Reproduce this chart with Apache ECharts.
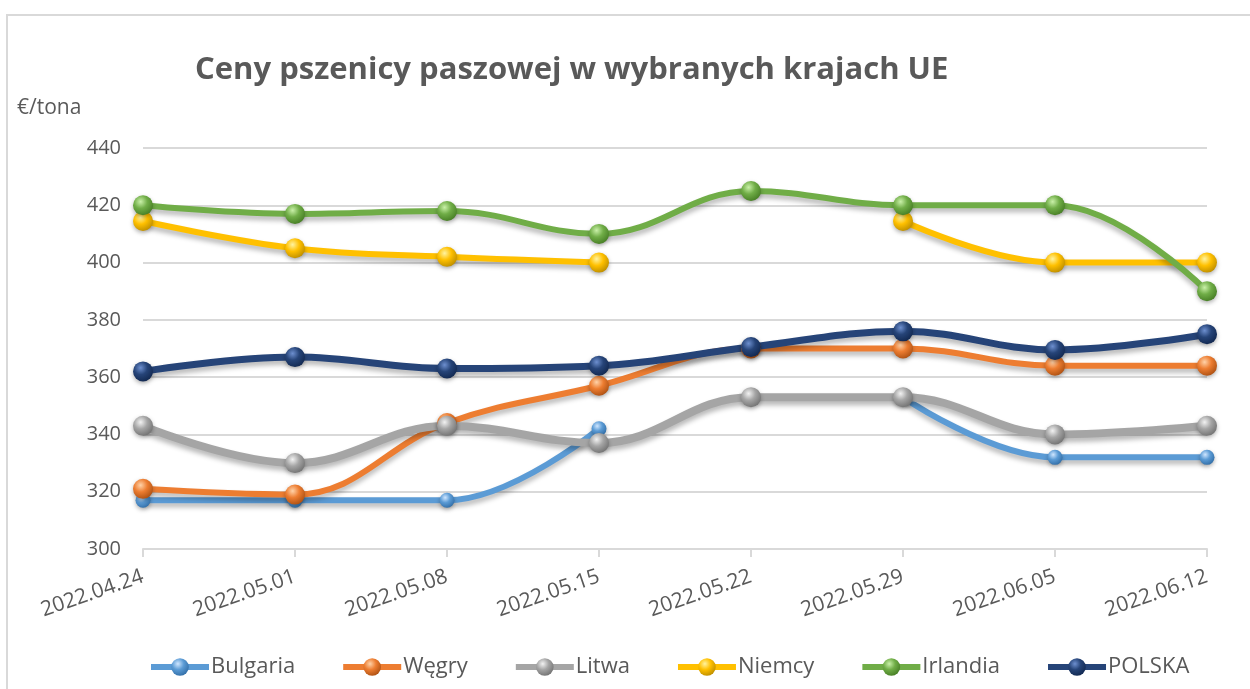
<!DOCTYPE html>
<html>
<head>
<meta charset="utf-8">
<script src="https://cdn.jsdelivr.net/npm/echarts@6/dist/echarts.min.js"></script>
<style>
html,body{margin:0;padding:0;background:#fff;}
#chart{width:1250px;height:689px;}
</style>
</head>
<body>
<div id="chart"></div>
<script>
const categories = ['2022.04.24','2022.05.01','2022.05.08','2022.05.15','2022.05.22','2022.05.29','2022.06.05','2022.06.12'];
const bulgaria = [317, 317, 317, 342, null, 353, 332, 332];
const wegry    = [321, 319, 344, 357, 370, 370, 364, 364];
const litwa    = [343, 330, 343, 337, 353, 353, 340, 343];
const niemcy   = [414.5, 405, 402, 400, null, 414.5, 400, 400];
const irlandia = [420, 417, 418, 410, 425, 420, 420, 390];
const polska   = [362, 367, 363, 364, 370.5, 376, 369.5, 375];
const seriesNames = ['Bulgaria','Węgry','Litwa','Niemcy','Irlandia','POLSKA'];
const yTicks = [300, 440, 20];

const FONT = '"Open Sans", "DejaVu Sans", sans-serif';
const TXT = '#595959';

function sphere(light, base, dark){
  return {
    type:'radial', x:0.38, y:0.32, r:0.75,
    colorStops:[
      {offset:0, color:light},
      {offset:0.45, color:base},
      {offset:1, color:dark}
    ]
  };
}

const styles = [
  {color:'#5B9BD5', light:'#cfe6ff', dark:'#2e6aa3', lw:6, ms:15},
  {color:'#ED7D31', light:'#ffd2a8', dark:'#a84d10', lw:6, ms:20},
  {color:'#A5A5A5', light:'#f2f2f2', dark:'#6e6e6e', lw:8, ms:20},
  {color:'#FFC000', light:'#fff3a0', dark:'#b88a00', lw:6, ms:20},
  {color:'#70AD47', light:'#c9f0a8', dark:'#437a22', lw:6, ms:20},
  {color:'#264478', light:'#6d8fcf', dark:'#10264d', lw:7, ms:20}
];
const dataSets = [bulgaria, wegry, litwa, niemcy, irlandia, polska];

const series = dataSets.map((d,i)=>({
  name: seriesNames[i],
  type:'line',
  data:d,
  smooth:0.4,
  connectNulls:false,
  symbol:'circle',
  symbolSize: styles[i].ms,
  lineStyle:{color:styles[i].color, width:styles[i].lw, shadowColor:'rgba(0,0,0,0.28)', shadowBlur:5, shadowOffsetY:4},
  itemStyle:{color:sphere(styles[i].light, styles[i].color, styles[i].dark), borderWidth:0, shadowColor:'rgba(0,0,0,0.3)', shadowBlur:4, shadowOffsetY:2},
  emphasis:{disabled:true},
  animation:false
}));

const chart = echarts.init(document.getElementById('chart'));
chart.setOption({
  backgroundColor:'#fff',
  animation:false,
  title:{
    text:'Ceny pszenicy paszowej w wybranych krajach UE',
    left:190, top:50,
    textStyle:{fontFamily:FONT, fontWeight:'bold', fontSize:31, color:TXT}
  },
  graphic:[
    {type:'rect', shape:{x:7, y:15, width:1260, height:700}, style:{fill:'none', stroke:'#d9d9d9', lineWidth:2}, silent:true},
    {type:'text', left:17, top:98, style:{text:'€/tona', font:'21px "Open Sans", sans-serif', fill:TXT}, silent:true}
  ],
  legend:{
    data:seriesNames,
    left:143, top:651,
    itemWidth:58, itemHeight:22, itemGap:45,
    lineStyle:{width:6},
    textStyle:{fontFamily:FONT, fontSize:22, color:TXT, padding:[0,0,0,-3]}
  },
  grid:{left:143, right:43, top:148, bottom:140, containLabel:false},
  xAxis:{
    type:'category', data:categories, boundaryGap:false,
    axisLine:{lineStyle:{color:'#d9d9d9', width:2}},
    axisTick:{show:true, length:8, lineStyle:{color:'#d9d9d9', width:2}},
    axisLabel:{rotate:19, margin:27, fontFamily:FONT, fontSize:21, color:TXT, interval:0}
  },
  yAxis:{
    type:'value', min:yTicks[0], max:yTicks[1], interval:yTicks[2],
    axisLine:{show:false}, axisTick:{show:false},
    axisLabel:{fontFamily:FONT, fontSize:20, color:TXT, margin:22},
    splitLine:{lineStyle:{color:'#d9d9d9', width:2}}
  },
  series:series
});
</script>
</body>
</html>
